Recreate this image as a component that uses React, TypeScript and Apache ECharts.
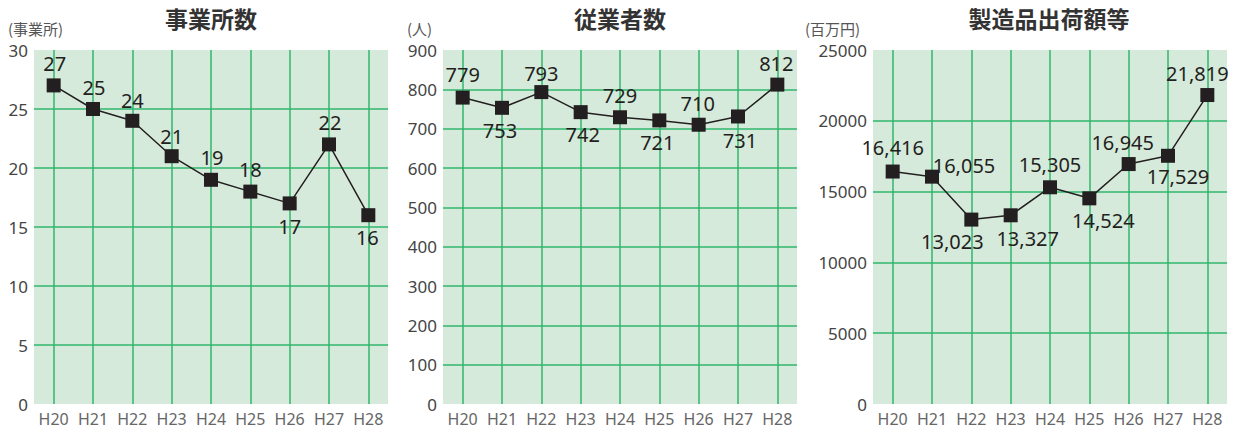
import React, { useEffect, useRef } from "react";
import * as echarts from "echarts";

const categories = ["H20", "H21", "H22", "H23", "H24", "H25", "H26", "H27", "H28"];
const establishments = [27, 25, 24, 21, 19, 18, 17, 22, 16];
const employees = [779, 753, 793, 742, 729, 721, 710, 731, 812];
const shipments = [16416, 16055, 13023, 13327, 15305, 14524, 16945, 17529, 21819];

const titles = ["事業所数", "従業者数", "製造品出荷額等"];
const units = ["(事業所)", "(人)", "(百万円)"];
const yMaxes = [30, 900, 25000];
const yIntervals = [5, 100, 5000];

// label placement per point: [position, dx, dy]
type Place = [string, number, number];
const places1: Place[] = [
  ["top", 1, 0], ["top", 1, 0], ["top", 0, 2], ["top", 0, 2], ["top", 1, 0],
  ["top", 0, 0], ["bottom", 0, 1], ["top", 1, 0], ["bottom", -1, 0],
];
const places2: Place[] = [
  ["top", 0, -1], ["bottom", -2, 1], ["top", 0, 3], ["bottom", 2, 0], ["top", 0, 0],
  ["bottom", -2, 0], ["top", -1, 1], ["bottom", 2, 2], ["top", -1, 1],
];
const places3: Place[] = [
  ["top", 0, -2], ["top", 32, 11], ["bottom", -19, 0], ["bottom", 17, 1], ["top", 0, -1],
  ["bottom", 14, 0], ["top", -6, 0], ["bottom", 10, -1], ["top", -10, 0],
];

const FONT = "'Noto Sans', 'Noto Sans CJK JP', sans-serif";
const CJK = "'Noto Sans CJK JP', 'Noto Sans', sans-serif";
const gridLefts = [34, 443, 873];
const centers = [211, 620, 1049];
const unitLefts = [8, 407, 805];

export default function App() {
  const ref = useRef<HTMLDivElement>(null);
  useEffect(() => {
    if (!ref.current) return;
    const chart = echarts.init(ref.current, undefined, { renderer: "svg" });
    const datasets = [establishments, employees, shipments];
    const places = [places1, places2, places3];
    const fmt = (v: number) => v.toLocaleString("en-US");

    const grids = gridLefts.map((l) => ({
      left: l,
      top: 50,
      width: 354,
      height: 354,
      show: true,
      backgroundColor: "#d6eadb",
      borderWidth: 0,
    }));
    const xAxes = gridLefts.map((_, i) => ({
      type: "category",
      gridIndex: i,
      data: categories,
      boundaryGap: true,
      axisLine: { show: false },
      axisTick: { show: false },
      axisLabel: { fontSize: 16, color: "#666", margin: 7, fontFamily: FONT, interval: 0 },
      splitLine: {
        show: true,
        interval: 0,
        alignWithLabel: true,
        lineStyle: { color: "#2fb66c", width: 1.5 },
      },
    }));
    const yAxes = gridLefts.map((_, i) => ({
      type: "value",
      gridIndex: i,
      min: 0,
      max: yMaxes[i],
      interval: yIntervals[i],
      axisLine: { show: false },
      axisTick: { show: false },
      axisLabel: {
        fontSize: 17,
        color: "#444",
        margin: 6,
        fontFamily: FONT,
        lineHeight: 17,
        formatter: (v: number) => String(v),
      },
      splitLine: {
        show: true,
        showMinLine: false,
        showMaxLine: false,
        lineStyle: { color: "#2fb66c", width: 1.5 },
      },
    }));
    const series = datasets.map((d, i) => ({
      type: "line",
      xAxisIndex: i,
      yAxisIndex: i,
      symbol: "rect",
      symbolSize: 14,
      itemStyle: { color: "#231f20" },
      lineStyle: { color: "#231f20", width: 1.5 },
      label: {
        show: true,
        fontSize: 20,
        color: "#231f20",
        fontFamily: FONT,
        distance: 5,
        formatter: (p: any) => fmt(p.value),
      },
      data: d.map((v, j) => ({
        value: v,
        label: { position: places[i][j][0], offset: [places[i][j][1], places[i][j][2]] },
      })),
      z: 5,
    }));
    const graphic: any[] = [];
    titles.forEach((t, i) => {
      graphic.push({
        type: "text",
        x: centers[i],
        y: 18,
        style: {
          text: t,
          fontSize: 23,
          fontWeight: "bold",
          fontFamily: CJK,
          fill: "#333",
          textAlign: "center",
          textVerticalAlign: "middle",
        },
      });
      graphic.push({
        type: "text",
        x: unitLefts[i],
        y: 28,
        style: {
          text: units[i],
          fontSize: 15,
          lineHeight: 15,
          fontFamily: CJK,
          fill: "#555",
          textAlign: "left",
          textVerticalAlign: "middle",
        },
      });
    });

    chart.setOption({
      animation: false,
      grid: grids,
      xAxis: xAxes,
      yAxis: yAxes,
      series,
      graphic,
    } as any);
    return () => chart.dispose();
  }, []);
  return (
    <div
      ref={ref}
      style={{ position: "fixed", left: 0, top: 0, width: 1234, height: 430, background: "#fff" }}
    />
  );
}
